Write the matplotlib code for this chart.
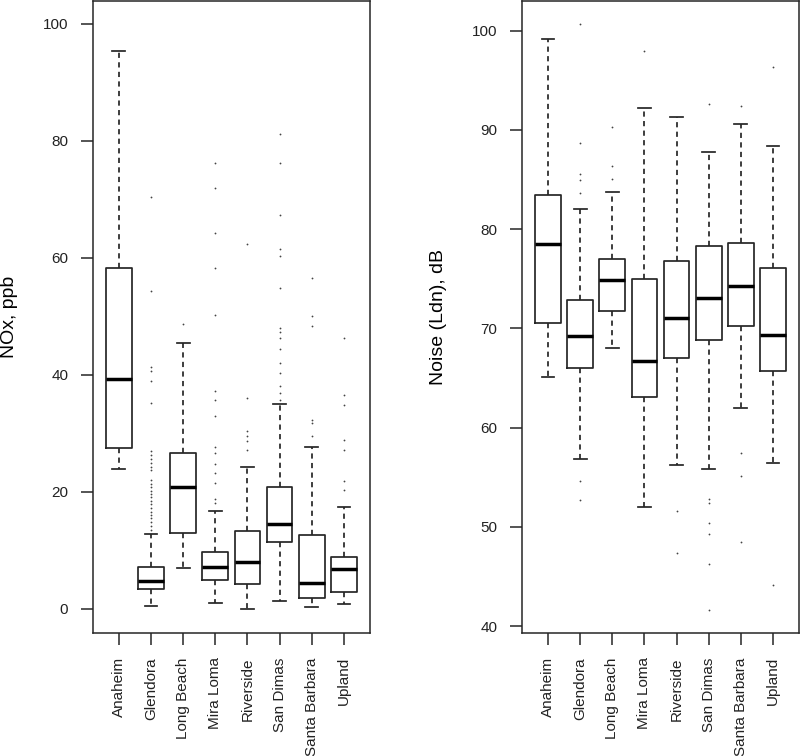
import numpy as np
import matplotlib.pyplot as plt

plt.rcParams['font.family'] = ['Liberation Sans', 'DejaVu Sans']

sites = ['Anaheim', 'Glendora', 'Long Beach', 'Mira Loma', 'Riverside',
         'San Dimas', 'Santa Barbara', 'Upland']

# NOx (ppb) box statistics
nox_whislo = [24.0, 0.5, 7.0, 1.1, 0.0, 1.4, 0.4, 0.9]
nox_q1 = [27.5, 3.5, 13.0, 5.0, 4.3, 11.5, 1.8, 2.9]
nox_med = [39.3, 4.7, 20.8, 7.1, 8.1, 14.6, 4.5, 6.8]
nox_q3 = [58.3, 7.2, 26.6, 9.8, 13.3, 20.9, 12.6, 8.8]
nox_whishi = [95.3, 12.8, 45.5, 16.8, 24.3, 35.1, 27.7, 17.4]
nox_fliers = [
    [],
    [70.4, 54.3, 41.3, 40.7, 39.0, 35.2, 27.0, 26.3, 25.6, 25.0, 24.3, 23.8,
     22.1, 21.4, 20.8, 20.2, 19.7, 19.1, 18.5, 17.9, 17.3, 16.6, 16.1, 15.5,
     14.8, 14.1, 13.5],
    [48.7],
    [76.2, 72.0, 64.2, 58.3, 50.2, 37.3, 35.7, 32.9, 27.7, 26.7, 24.7, 23.2,
     21.6, 18.8, 18.1],
    [62.4, 36.0, 30.4, 29.6, 28.7, 27.2],
    [81.1, 76.2, 67.4, 61.6, 60.3, 54.8, 48.0, 47.4, 46.3, 44.4, 42.1, 40.3,
     38.1, 36.9, 35.7],
    [56.6, 50.0, 48.4, 32.3, 31.8, 29.5],
    [46.3, 36.5, 34.9, 28.8, 27.2, 21.9, 20.3],
]

# Noise Ldn (dB) box statistics
noise_whislo = [65.1, 56.8, 68.0, 52.0, 56.2, 55.8, 62.0, 56.4]
noise_q1 = [70.5, 66.0, 71.8, 63.1, 67.0, 68.8, 70.2, 65.7]
noise_med = [78.5, 69.2, 74.9, 66.7, 71.0, 73.1, 74.3, 69.3]
noise_q3 = [83.4, 72.9, 77.0, 75.0, 76.8, 78.3, 78.6, 76.1]
noise_whishi = [99.2, 82.0, 83.7, 92.2, 91.3, 87.8, 90.6, 88.4]
noise_fliers = [
    [],
    [100.7, 88.7, 85.6, 85.0, 83.6, 54.6, 52.7],
    [90.3, 86.4, 85.1],
    [98.0],
    [51.6, 47.4],
    [92.6, 52.8, 52.4, 50.4, 49.3, 46.3, 41.6],
    [92.4, 57.4, 55.1, 48.5],
    [96.3, 44.1],
]


def make_stats(lo, q1, med, q3, hi, fl):
    stats = []
    for i in range(len(sites)):
        stats.append({'whislo': lo[i], 'q1': q1[i], 'med': med[i], 'q3': q3[i],
                      'whishi': hi[i], 'fliers': np.array(fl[i]), 'label': sites[i]})
    return stats


ink = '#262626'
box_kw = dict(
    widths=0.8, capwidths=0.4, showfliers=True, patch_artist=False,
    boxprops=dict(color=ink, linewidth=1.25),
    medianprops=dict(color='black', linewidth=2.5, solid_capstyle='butt'),
    whiskerprops=dict(color=ink, linewidth=1.25, linestyle=(0, (3, 2.5))),
    capprops=dict(color=ink, linewidth=1.25),
    flierprops=dict(marker='o', markersize=1.3, markerfacecolor='#444444',
                    markeredgecolor='none', linestyle='none'),
)

fig = plt.figure(figsize=(8, 7.56), dpi=100)
ax1 = fig.add_axes([0.1159, 0.1631, 0.3466, 0.8356])
ax2 = fig.add_axes([0.6525, 0.1631, 0.3463, 0.8356])

pos = np.arange(1, len(sites) + 1)
ax1.bxp(make_stats(nox_whislo, nox_q1, nox_med, nox_q3, nox_whishi, nox_fliers),
        positions=pos, **box_kw)
ax2.bxp(make_stats(noise_whislo, noise_q1, noise_med, noise_q3, noise_whishi, noise_fliers),
        positions=pos, **box_kw)

ax1.set_ylim(-4.05, 103.9)
ax1.set_yticks([0, 20, 40, 60, 80, 100])
ax2.set_ylim(39.33, 103.0)
ax2.set_yticks([40, 50, 60, 70, 80, 90, 100])

ax1.set_ylabel('NOx, ppb', fontsize=14, color='black')
ax2.set_ylabel('Noise (Ldn), dB', fontsize=14, color='black')
ax1.yaxis.set_label_coords(-0.271, 0.5)
ax2.yaxis.set_label_coords(-0.269, 0.5)

for ax in (ax1, ax2):
    ax.set_xlim(0.19, 8.81)
    ax.set_xticks(pos)
    ax.set_xticklabels(sites, rotation=90)
    ax.tick_params(axis='both', length=8.6, width=1.1, pad=9, labelsize=11,
                   color=ink, labelcolor='#222222')
    for sp in ax.spines.values():
        sp.set_linewidth(1.1)
        sp.set_color(ink)

fig.savefig('out.png', dpi=100)
